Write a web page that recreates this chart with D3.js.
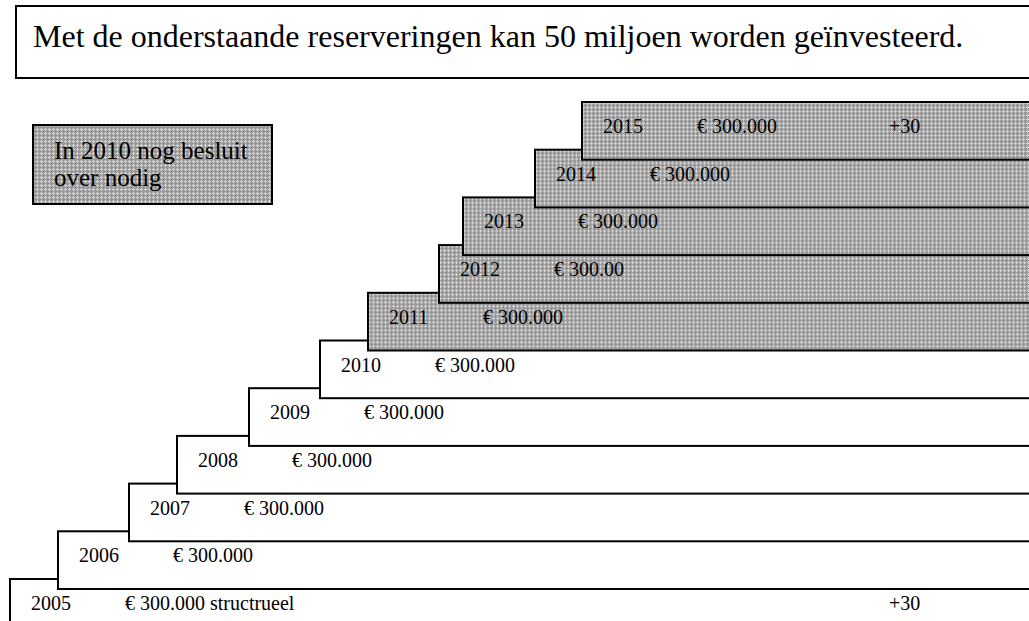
<!DOCTYPE html>
<html>
<head>
<meta charset="utf-8">
<script src="https://cdn.jsdelivr.net/npm/d3@7/dist/d3.min.js"></script>
<style>
body { margin: 0; background: #fff; }
</style>
</head>
<body>
<div id="chart"></div>
<script>

// data
var years = [2005, 2006, 2007, 2008, 2009, 2010, 2011, 2012, 2013, 2014, 2015];
var amounts = ["€ 300.000 structrueel", "€ 300.000", "€ 300.000", "€ 300.000", "€ 300.000",
	"€ 300.000", "€ 300.000", "€ 300.00", "€ 300.000", "€ 300.000", "€ 300.000"];
var extras = ["+30", "", "", "", "", "", "", "", "", "", "+30"];
var pending = [false, false, false, false, false, false, true, true, true, true, true];
// where each step starts (0-100 along the page width)
var starts = [0, 4.8, 11.9, 16.7, 23.9, 31.0, 35.8, 42.9, 45.3, 52.5, 57.2];
var extraPos = 87.9;

var titleText = "Met de onderstaande reserveringen kan 50 miljoen worden geïnvesteerd.";
var noteLines = ["In 2010 nog besluit", "over nodig"];

var width = 1029, height = 621;
var fontFamily = "'Liberation Serif', 'Times New Roman', serif";

var svg = d3.select("#chart").append("svg")
	.attr("width", width)
	.attr("height", height);

// grey dotted fill like the original
var defs = svg.append("defs");
var pat = defs.append("pattern")
	.attr("id", "dots")
	.attr("patternUnits", "userSpaceOnUse")
	.attr("width", 4)
	.attr("height", 4);
pat.append("rect").attr("width", 4).attr("height", 4).attr("fill", "#999");
pat.append("rect").attr("x", 1).attr("y", 0).attr("width", 1).attr("height", 3).attr("fill", "#d4d4d4");
pat.append("rect").attr("x", 0).attr("y", 1).attr("width", 3).attr("height", 1).attr("fill", "#d4d4d4");

// scales
var x = d3.scaleLinear()
	.domain([0, 100])
	.range([10, 1010]);

var y = d3.scaleBand()
	.domain(years.slice().reverse())
	.range([102, 102 + 47.7 * years.length])
	.padding(0);

// title box
svg.append("rect")
	.attr("x", 16)
	.attr("y", 6)
	.attr("width", width)
	.attr("height", 72)
	.attr("fill", "#fff")
	.attr("stroke", "#000")
	.attr("stroke-width", 2);

svg.append("text")
	.attr("x", 33)
	.attr("y", 47)
	.attr("font-family", fontFamily)
	.attr("font-size", 32)
	.attr("fill", "#000")
	.text(titleText);

// note box
svg.append("rect")
	.attr("x", 33)
	.attr("y", 125)
	.attr("width", 239)
	.attr("height", 79)
	.attr("fill", "url(#dots)")
	.attr("stroke", "#000")
	.attr("stroke-width", 2);

svg.append("text")
	.attr("font-family", fontFamily)
	.attr("font-size", 25)
	.attr("fill", "#000")
	.selectAll("tspan")
	.data(noteLines)
	.join("tspan")
	.attr("x", 54)
	.attr("y", function(d, i){ return 159 + i * 27; })
	.text(function(d){ return d; });

// the steps
var rows = years.map(function(yr, i){
	return { year: yr, amount: amounts[i], extra: extras[i], pending: pending[i], start: starts[i] };
});

var step = svg.selectAll("g.step")
	.data(rows)
	.join("g")
	.attr("class", "step")
	.attr("transform", function(d){ return "translate(" + x(d.start) + "," + y(d.year) + ")"; });

step.append("rect")
	.attr("x", 0)
	.attr("y", 0)
	.attr("width", function(d){ return width + 20 - x(d.start); })
	.attr("height", y.bandwidth() + 10)
	.attr("fill", function(d){ return d.pending ? "url(#dots)" : "#fff"; })
	.attr("stroke", "#000")
	.attr("stroke-width", 2);

step.append("text")
	.attr("x", 21)
	.attr("y", 31)
	.attr("font-family", fontFamily)
	.attr("font-size", 20)
	.attr("fill", "#000")
	.text(function(d){ return d.year; });

step.append("text")
	.attr("x", 115)
	.attr("y", 31)
	.attr("font-family", fontFamily)
	.attr("font-size", 20)
	.attr("fill", "#000")
	.text(function(d){ return d.amount; });

step.filter(function(d){ return d.extra !== ""; })
	.append("text")
	.attr("x", function(d){ return x(extraPos) - x(d.start); })
	.attr("y", 31)
	.attr("font-family", fontFamily)
	.attr("font-size", 20)
	.attr("fill", "#000")
	.text(function(d){ return d.extra; });

</script>
</body>
</html>
